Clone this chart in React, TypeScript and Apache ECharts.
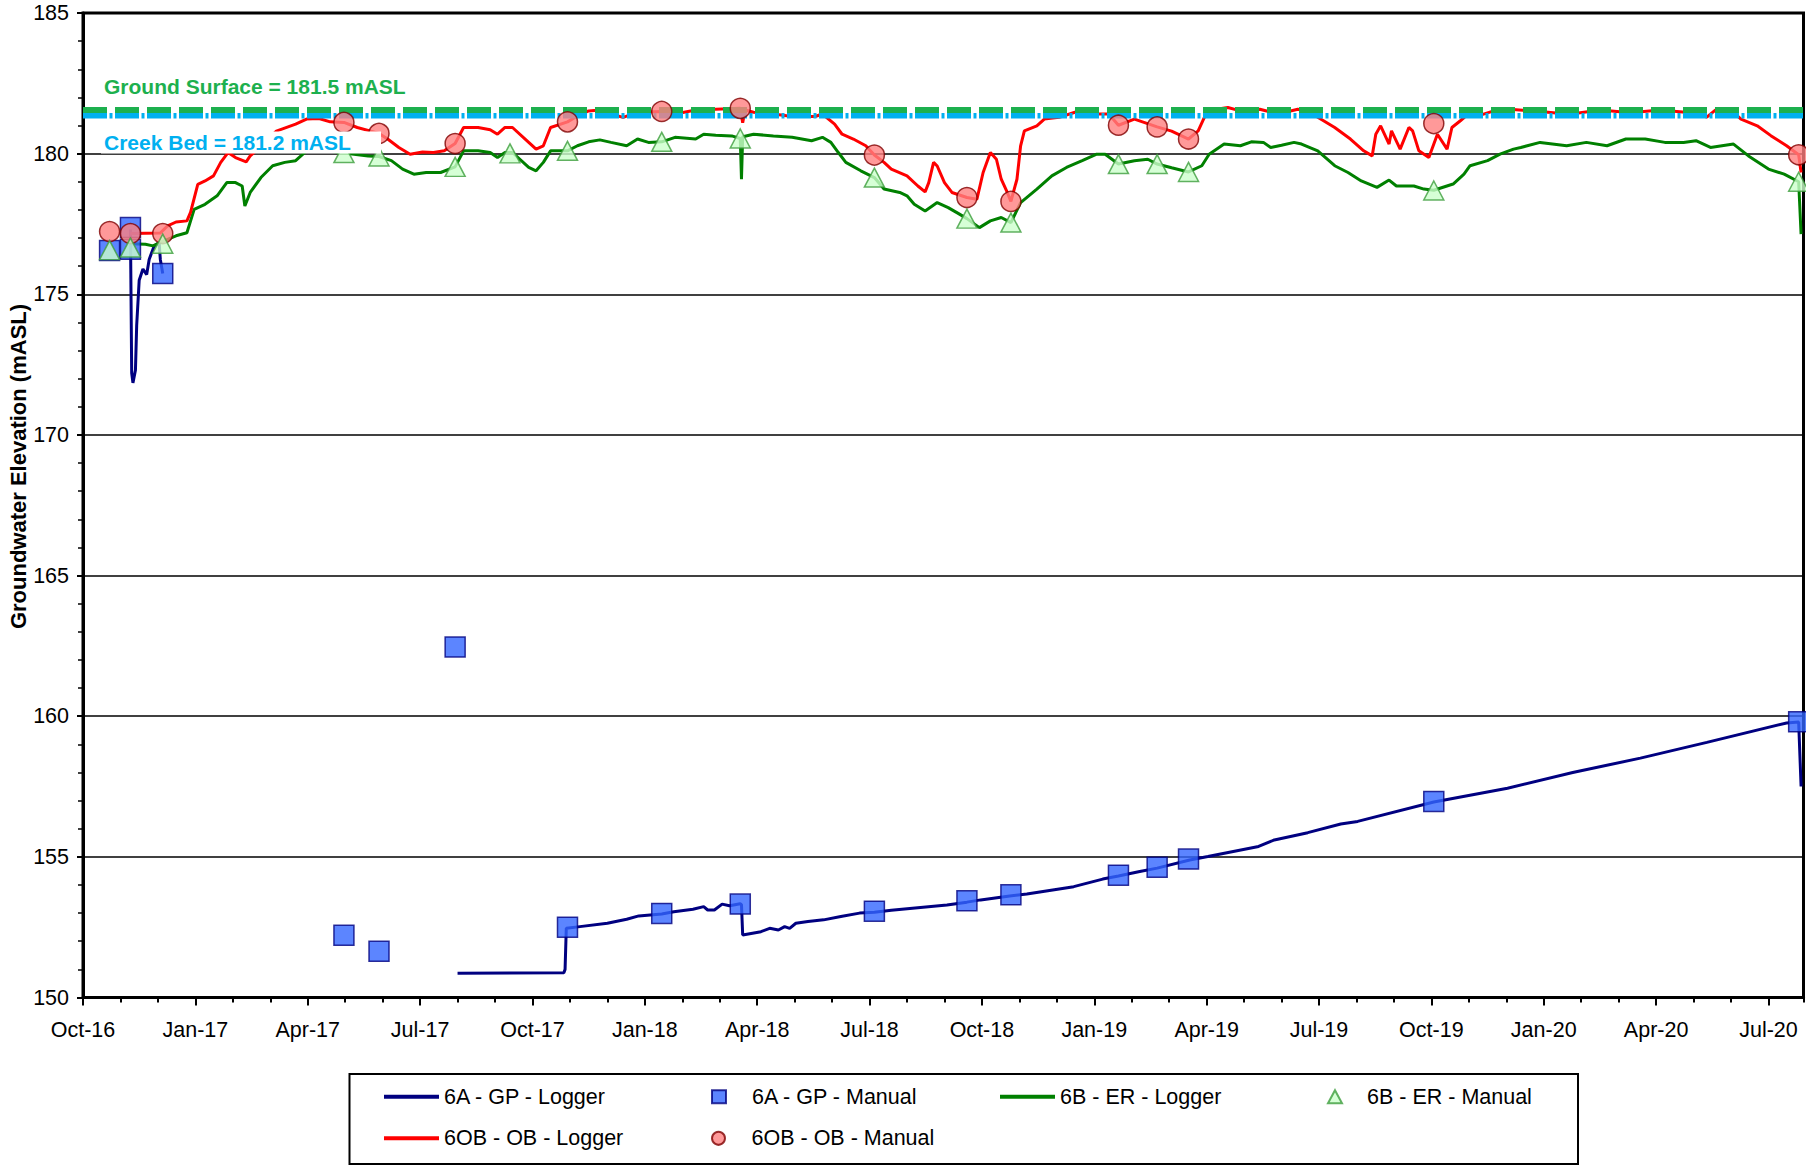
import React, { useEffect, useRef } from 'react';
import * as echarts from 'echarts';

const FONT = '"Liberation Sans", Arial, Helvetica, sans-serif';

const X_TICK_LABELS = ['Oct-16', 'Jan-17', 'Apr-17', 'Jul-17', 'Oct-17', 'Jan-18', 'Apr-18', 'Jul-18', 'Oct-18', 'Jan-19', 'Apr-19', 'Jul-19', 'Oct-19', 'Jan-20', 'Apr-20', 'Jul-20'];
const X_START = '2016-10-01';
const X_END = '2020-07-30';
const Y_MIN = 150;
const Y_MAX = 185;
const Y_STEP = 5;

const Y_TITLE = 'Groundwater Elevation (mASL)';
const GROUND_LABEL = 'Ground Surface = 181.5 mASL';
const CREEK_LABEL = 'Creek Bed = 181.2 mASL';
const GROUND_LINE_LEVEL = 181.55;
const CREEK_LINE_LEVEL = 181.35;

const GP_LOGGER: [string, number | string][] = [
  ['2016-11-09', 177.3], ['2016-11-10', 172.2], ['2016-11-11', 171.85], ['2016-11-13', 172.3], ['2016-11-14', 173.9],
  ['2016-11-16', 175.5], ['2016-11-19', 175.9], ['2016-11-22', 175.7], ['2016-11-24', 176.24], ['2016-11-28', 176.72],
  ['2016-12-02', 176.84], ['2016-12-03', 176.24], ['2016-12-05', 175.74],
  ['2017-03-01', '-'],
  ['2017-08-01', 150.86], ['2017-10-27', 150.88], ['2017-10-28', 151.0], ['2017-10-29', 152.46], ['2017-11-09', 152.52],
  ['2017-12-01', 152.64], ['2017-12-17', 152.78], ['2017-12-27', 152.9], ['2018-01-15', 152.97], ['2018-01-25', 153.05],
  ['2018-02-09', 153.14], ['2018-02-17', 153.23], ['2018-02-20', 153.11], ['2018-02-25', 153.11], ['2018-03-03', 153.32],
  ['2018-03-09', 153.26], ['2018-03-18', 153.33], ['2018-03-19', 153.3], ['2018-03-20', 152.22], ['2018-04-04', 152.34],
  ['2018-04-11', 152.46], ['2018-04-18', 152.4], ['2018-04-23', 152.52], ['2018-04-27', 152.46], ['2018-05-02', 152.64],
  ['2018-05-12', 152.7], ['2018-05-25', 152.76], ['2018-06-08', 152.88], ['2018-06-23', 153.0], ['2018-07-05', 153.03],
  ['2018-07-19', 153.1], ['2018-09-03', 153.29], ['2018-09-19', 153.39], ['2018-09-30', 153.47], ['2018-10-24', 153.61],
  ['2018-11-07', 153.68], ['2018-12-15', 153.94], ['2019-01-08', 154.21], ['2019-01-21', 154.32], ['2019-02-07', 154.48],
  ['2019-02-20', 154.6], ['2019-03-18', 154.89], ['2019-04-02', 155.01], ['2019-05-13', 155.37], ['2019-05-26', 155.6],
  ['2019-06-22', 155.86], ['2019-07-19', 156.17], ['2019-08-02', 156.26], ['2019-10-03', 156.95], ['2019-12-02', 157.44],
  ['2020-01-25', 158.0], ['2020-03-19', 158.51], ['2020-05-12', 159.07], ['2020-07-16', 159.76], ['2020-07-26', 159.79],
  ['2020-07-28', 157.5],
];

const GP_MANUAL: [string, number][] = [
  ['2016-10-23', 176.56], ['2016-11-09', 177.37], ['2016-11-09', 176.6], ['2016-12-05', 175.74], ['2017-04-30', 152.21],
  ['2017-05-29', 151.64], ['2017-07-30', 162.46], ['2017-10-30', 152.5], ['2018-01-15', 152.99], ['2018-03-18', 153.32],
  ['2018-07-05', 153.07], ['2018-09-19', 153.44], ['2018-10-25', 153.65], ['2019-01-21', 154.35], ['2019-02-20', 154.63],
  ['2019-03-17', 154.92], ['2019-10-03', 156.97], ['2020-07-26', 159.8],
];

const ER_LOGGER: [string, number][] = [
  ['2016-11-09', 176.8], ['2016-11-21', 176.78], ['2016-11-27', 176.72], ['2016-12-06', 176.9], ['2016-12-16', 177.08],
  ['2016-12-25', 177.19], ['2016-12-31', 178.02], ['2017-01-09', 178.2], ['2017-01-19', 178.5], ['2017-01-27', 178.97],
  ['2017-02-03', 178.97], ['2017-02-08', 178.85], ['2017-02-10', 178.14], ['2017-02-14', 178.62], ['2017-02-22', 179.15],
  ['2017-03-03', 179.57], ['2017-03-13', 179.69], ['2017-03-22', 179.75], ['2017-03-31', 180.1], ['2017-04-16', 180.1],
  ['2017-04-30', 180.02], ['2017-05-20', 179.92], ['2017-05-29', 179.9], ['2017-06-08', 179.75], ['2017-06-17', 179.45],
  ['2017-06-26', 179.27], ['2017-07-06', 179.33], ['2017-07-18', 179.33], ['2017-07-30', 179.53], ['2017-08-06', 180.1],
  ['2017-08-18', 180.1], ['2017-08-28', 180.04], ['2017-09-03', 179.86], ['2017-09-09', 180.04], ['2017-09-15', 180.04],
  ['2017-09-28', 179.51], ['2017-10-04', 179.39], ['2017-10-10', 179.69], ['2017-10-16', 180.1], ['2017-10-30', 180.1],
  ['2017-11-07', 180.28], ['2017-11-16', 180.42], ['2017-11-25', 180.49], ['2017-12-04', 180.4], ['2017-12-17', 180.28],
  ['2017-12-26', 180.52], ['2018-01-04', 180.4], ['2018-01-15', 180.42], ['2018-01-26', 180.58], ['2018-02-11', 180.52],
  ['2018-02-17', 180.69], ['2018-02-26', 180.65], ['2018-03-11', 180.63], ['2018-03-18', 180.54], ['2018-03-19', 179.09],
  ['2018-03-20', 180.6], ['2018-03-29', 180.69], ['2018-04-14', 180.63], ['2018-04-29', 180.58], ['2018-05-15', 180.46],
  ['2018-05-24', 180.58], ['2018-05-31', 180.4], ['2018-06-06', 180.04], ['2018-06-12', 179.69], ['2018-06-24', 179.39],
  ['2018-07-05', 179.15], ['2018-07-13', 178.74], ['2018-07-26', 178.62], ['2018-08-01', 178.5], ['2018-08-07', 178.2],
  ['2018-08-16', 177.96], ['2018-08-26', 178.26], ['2018-09-04', 178.08], ['2018-09-13', 177.85], ['2018-09-19', 177.69],
  ['2018-09-29', 177.37], ['2018-10-08', 177.61], ['2018-10-17', 177.73], ['2018-10-25', 177.55], ['2018-11-02', 178.26],
  ['2018-11-15', 178.74], ['2018-11-27', 179.21], ['2018-12-09', 179.51], ['2018-12-22', 179.75], ['2019-01-03', 179.98],
  ['2019-01-10', 179.98], ['2019-01-21', 179.63], ['2019-02-03', 179.75], ['2019-02-13', 179.8], ['2019-02-20', 179.63],
  ['2019-03-03', 179.5], ['2019-03-17', 179.35], ['2019-03-28', 179.57], ['2019-04-03', 179.98], ['2019-04-15', 180.34],
  ['2019-04-28', 180.28], ['2019-05-07', 180.42], ['2019-05-17', 180.4], ['2019-05-23', 180.22], ['2019-06-01', 180.3],
  ['2019-06-11', 180.4], ['2019-06-17', 180.34], ['2019-06-30', 180.1], ['2019-07-14', 179.57], ['2019-07-25', 179.33],
  ['2019-08-05', 179.03], ['2019-08-18', 178.8], ['2019-08-28', 179.06], ['2019-09-03', 178.85], ['2019-09-17', 178.85],
  ['2019-09-25', 178.74], ['2019-10-03', 178.7], ['2019-10-19', 178.92], ['2019-10-28', 179.27], ['2019-11-02', 179.57],
  ['2019-11-16', 179.75], ['2019-11-26', 179.98], ['2019-12-07', 180.16], ['2019-12-13', 180.22], ['2019-12-29', 180.4],
  ['2020-01-20', 180.28], ['2020-02-05', 180.4], ['2020-02-21', 180.28], ['2020-03-07', 180.52], ['2020-03-23', 180.52],
  ['2020-04-08', 180.4], ['2020-04-23', 180.4], ['2020-05-03', 180.46], ['2020-05-15', 180.22], ['2020-06-03', 180.34],
  ['2020-06-15', 179.92], ['2020-07-01', 179.45], ['2020-07-14', 179.27], ['2020-07-26', 179.0], ['2020-07-28', 177.14],
];

const ER_MANUAL: [string, number][] = [
  ['2016-10-23', 176.57], ['2016-11-09', 176.66], ['2016-12-05', 176.8], ['2017-04-30', 180.02], ['2017-05-29', 179.9],
  ['2017-07-30', 179.53], ['2017-09-13', 180.01], ['2017-10-30', 180.1], ['2018-01-15', 180.42], ['2018-03-18', 180.54],
  ['2018-07-05', 179.15], ['2018-09-19', 177.69], ['2018-10-25', 177.55], ['2019-01-21', 179.63], ['2019-02-20', 179.63],
  ['2019-03-17', 179.35], ['2019-10-03', 178.69], ['2020-07-26', 179.0],
];

const OB_LOGGER: [string, number][] = [
  ['2016-11-09', 177.16], ['2016-12-03', 177.18], ['2016-12-09', 177.43], ['2016-12-16', 177.57], ['2016-12-25', 177.61],
  ['2016-12-28', 177.91], ['2017-01-03', 178.91], ['2017-01-09', 179.03], ['2017-01-16', 179.21], ['2017-01-22', 179.69],
  ['2017-01-28', 180.04], ['2017-02-03', 179.86], ['2017-02-11', 179.71], ['2017-02-14', 179.92], ['2017-02-23', 180.3],
  ['2017-03-06', 180.8], ['2017-03-22', 181.05], ['2017-03-31', 181.23], ['2017-04-10', 181.25], ['2017-04-19', 181.13],
  ['2017-04-30', 181.11], ['2017-05-11', 180.93], ['2017-05-29', 180.72], ['2017-06-05', 180.52], ['2017-06-14', 180.22],
  ['2017-06-23', 179.98], ['2017-07-03', 180.06], ['2017-07-12', 180.04], ['2017-07-21', 180.1], ['2017-07-30', 180.36],
  ['2017-08-06', 180.93], ['2017-08-18', 180.93], ['2017-08-28', 180.85], ['2017-09-03', 180.69], ['2017-09-09', 180.93],
  ['2017-09-15', 180.93], ['2017-09-28', 180.4], ['2017-10-04', 180.16], ['2017-10-10', 180.28], ['2017-10-16', 180.93],
  ['2017-10-30', 181.13], ['2017-11-07', 181.34], ['2017-11-16', 181.52], ['2017-11-25', 181.55], ['2017-12-04', 181.41],
  ['2017-12-14', 181.29], ['2017-12-26', 181.47], ['2018-01-15', 181.5], ['2018-01-26', 181.41], ['2018-02-14', 181.58],
  ['2018-02-26', 181.58], ['2018-03-18', 181.61], ['2018-03-20', 181.1], ['2018-03-22', 181.55], ['2018-03-29', 181.47],
  ['2018-04-14', 181.41], ['2018-04-29', 181.32], ['2018-05-18', 181.32], ['2018-05-24', 181.41], ['2018-06-03', 181.05],
  ['2018-06-09', 180.69], ['2018-06-18', 180.52], ['2018-06-28', 180.28], ['2018-07-05', 179.95], ['2018-07-13', 179.69],
  ['2018-07-19', 179.45], ['2018-08-01', 179.21], ['2018-08-10', 178.85], ['2018-08-16', 178.64], ['2018-08-19', 178.97],
  ['2018-08-23', 179.69], ['2018-08-26', 179.56], ['2018-09-01', 178.97], ['2018-09-07', 178.62], ['2018-09-19', 178.44],
  ['2018-09-27', 178.38], ['2018-10-02', 179.33], ['2018-10-08', 180.04], ['2018-10-13', 179.8], ['2018-10-17', 179.09],
  ['2018-10-22', 178.62], ['2018-10-25', 178.3], ['2018-10-30', 179.09], ['2018-11-02', 180.28], ['2018-11-05', 180.81],
  ['2018-11-15', 180.99], ['2018-11-21', 181.23], ['2018-12-03', 181.29], ['2018-12-16', 181.47], ['2018-12-28', 181.41],
  ['2019-01-13', 181.41], ['2019-01-21', 181.01], ['2019-02-03', 181.23], ['2019-02-20', 180.95], ['2019-03-03', 180.8],
  ['2019-03-17', 180.52], ['2019-03-25', 180.81], ['2019-04-01', 181.47], ['2019-04-09', 181.58], ['2019-04-18', 181.64],
  ['2019-04-28', 181.52], ['2019-05-14', 181.58], ['2019-05-29', 181.41], ['2019-06-14', 181.58], ['2019-06-28', 181.35],
  ['2019-07-14', 180.93], ['2019-07-27', 180.52], ['2019-08-07', 180.1], ['2019-08-14', 179.92], ['2019-08-17', 180.69],
  ['2019-08-21', 180.99], ['2019-08-28', 180.34], ['2019-08-30', 180.81], ['2019-09-06', 180.16], ['2019-09-13', 180.93],
  ['2019-09-16', 180.81], ['2019-09-21', 180.1], ['2019-09-29', 179.86], ['2019-10-06', 180.69], ['2019-10-14', 180.16],
  ['2019-10-18', 180.93], ['2019-10-25', 181.17], ['2019-10-30', 181.35], ['2019-11-09', 181.35], ['2019-11-21', 181.52],
  ['2019-12-04', 181.58], ['2019-12-29', 181.5], ['2020-01-22', 181.4], ['2020-02-16', 181.55], ['2020-03-11', 181.45],
  ['2020-04-04', 181.55], ['2020-04-29', 181.45], ['2020-05-12', 181.3], ['2020-05-19', 181.55], ['2020-06-03', 181.47],
  ['2020-06-09', 181.23], ['2020-06-22', 180.99], ['2020-07-03', 180.64], ['2020-07-16', 180.28], ['2020-07-26', 179.96],
  ['2020-07-28', 179.33],
];

const OB_MANUAL: [string, number][] = [
  ['2016-10-23', 177.23], ['2016-11-09', 177.16], ['2016-12-05', 177.16], ['2017-04-30', 181.11], ['2017-05-29', 180.72],
  ['2017-07-30', 180.36], ['2017-10-30', 181.13], ['2018-01-15', 181.5], ['2018-03-18', 181.61], ['2018-07-05', 179.95],
  ['2018-09-19', 178.44], ['2018-10-25', 178.3], ['2019-01-21', 181.01], ['2019-02-20', 180.95], ['2019-03-17', 180.52],
  ['2019-10-03', 181.07], ['2020-07-26', 179.96],
];

// date -> months since X_START (fractional, by day of month)
const [SY, SM] = X_START.split('-').map(Number);
function toMonth(s: string): number {
  const [y, m, d] = s.split('-').map(Number);
  const dim = new Date(y, m, 0).getDate();
  return (y - SY) * 12 + (m - SM) + (d - 1) / dim;
}
const conv = (arr: [string, number | string][]) => arr.map(([d, v]) => [toMonth(d), v]);
const X_MAX = toMonth(X_END);

const GREEN_REF = '#1DB04E';
const BLUE_REF = '#00B0F0';

function buildOption() {
  const legText = { fontFamily: FONT, fontSize: 21.5, color: '#000', lineHeight: 22 };
  const mkLineLegend = (name: string, left: number, top: number) => ({
    data: [{ name, icon: 'rect', itemStyle: { borderWidth: 0 } }],
    left, top, padding: 0, itemGap: 0, itemWidth: 55, itemHeight: 4,
    selectedMode: false, textStyle: legText,
  });
  const mkMarkerLegend = (name: string, center: number, textLeft: number, top: number) => ({
    data: [{ name }],
    left: center - 7, top, padding: 0, itemGap: 0, itemWidth: 14, itemHeight: 13,
    selectedMode: false,
    textStyle: { ...legText, padding: [0, 0, 0, textLeft - (center - 7 + 14 + 5)] },
  });
  const row1 = 1096.7 - 11;
  const row2 = 1138.3 - 11;

  return {
    animation: false,
    backgroundColor: '#ffffff',
    textStyle: { fontFamily: FONT },
    grid: {
      left: 83, right: 2.5, top: 13, bottom: 169.5,
      show: true, borderColor: '#000', borderWidth: 3, backgroundColor: 'rgba(0,0,0,0)',
    },
    xAxis: [
      {
        type: 'value', min: 0, max: X_MAX, interval: 3, position: 'bottom',
        axisLine: { show: true, onZero: false, lineStyle: { color: '#000', width: 3 } },
        axisTick: { show: true, length: 8, lineStyle: { color: '#000', width: 2 } },
        axisLabel: {
          show: true, margin: 21, color: '#000', fontSize: 21.5, fontFamily: FONT, showMaxLabel: false,
          formatter: (v: number) => {
            const i = Math.round(v / 3);
            return Math.abs(v - i * 3) < 1e-6 && X_TICK_LABELS[i] ? X_TICK_LABELS[i] : '';
          },
        },
        splitLine: { show: false },
      },
      {
        type: 'value', min: 0, max: X_MAX, interval: 1, position: 'bottom',
        axisLine: { show: false, onZero: false },
        axisTick: { show: true, length: 5, lineStyle: { color: '#000', width: 2 } },
        axisLabel: { show: false },
        splitLine: { show: false },
      },
    ],
    yAxis: {
      type: 'value', min: Y_MIN, max: Y_MAX, interval: Y_STEP,
      axisLine: { show: true, onZero: false, lineStyle: { color: '#000', width: 3 } },
      axisTick: { show: true, length: 6, lineStyle: { color: '#000', width: 2 } },
      minorTick: { show: true, splitNumber: 5, length: 5, lineStyle: { color: '#000', width: 1.5 } },
      axisLabel: { margin: 14, color: '#000', fontSize: 21.5, fontFamily: FONT },
      splitLine: { show: true, lineStyle: { color: '#000', width: 1.5 } },
    },
    legend: [
      mkLineLegend('6A - GP - Logger', 384, row1),
      mkMarkerLegend('6A - GP - Manual', 718, 751, row1),
      mkLineLegend('6B - ER - Logger', 1000, row1),
      mkMarkerLegend('6B - ER - Manual', 1334, 1366, row1),
      mkLineLegend('6OB - OB - Logger', 384, row2),
      mkMarkerLegend('6OB - OB - Manual', 718, 751, row2),
    ],
    graphic: [
      {
        type: 'rect', z: 100,
        shape: { x: 349.5, y: 1074, width: 1228.5, height: 90 },
        style: { fill: 'none', stroke: '#000', lineWidth: 2 },
      },
      {
        type: 'text', z: 100, x: 18, y: 466.5, rotation: Math.PI / 2,
        style: {
          text: Y_TITLE, font: `bold 22px ${FONT}`, fill: '#000',
          align: 'center', verticalAlign: 'middle', textAlign: 'center', textVerticalAlign: 'middle',
        },
      },
      {
        type: 'text', z: 100, x: 104, y: 86,
        style: {
          text: GROUND_LABEL, font: `bold 21px ${FONT}`, fill: GREEN_REF,
          align: 'left', verticalAlign: 'middle', textAlign: 'left', textVerticalAlign: 'middle',
        },
      },
      {
        type: 'rect', z: 100,
        shape: { x: 101, y: 131.5, width: 280, height: 22 },
        style: { fill: '#ffffff' },
      },
      {
        type: 'text', z: 101, x: 104, y: 142.5,
        style: {
          text: CREEK_LABEL, font: `bold 21px ${FONT}`, fill: BLUE_REF,
          align: 'left', verticalAlign: 'middle', textAlign: 'left', textVerticalAlign: 'middle',
        },
      },
    ],
    series: [
      {
        name: '6A - GP - Logger', type: 'line', z: 2, data: conv(GP_LOGGER), symbol: 'none', showSymbol: false,
        connectNulls: false, color: '#000080', lineStyle: { color: '#000080', width: 3 },
      },
      {
        name: '6A - GP - Manual', type: 'scatter', z: 4, data: conv(GP_MANUAL), symbol: 'rect', symbolSize: 20,
        itemStyle: { color: '#3366FF', borderColor: '#000080', borderWidth: 1.5 },
      },
      {
        name: '6B - ER - Logger', type: 'line', z: 2, data: conv(ER_LOGGER), symbol: 'none', showSymbol: false,
        color: '#008000', lineStyle: { color: '#008000', width: 3 },
      },
      {
        name: '6B - ER - Manual', type: 'scatter', z: 6, data: conv(ER_MANUAL), symbol: 'triangle', symbolSize: [20, 19],
        itemStyle: { color: '#CCFFCC', borderColor: '#3C9E3C', borderWidth: 1.5 },
      },
      {
        name: '6OB - OB - Logger', type: 'line', z: 2, data: conv(OB_LOGGER), symbol: 'none', showSymbol: false,
        color: '#FF0000', lineStyle: { color: '#FF0000', width: 3 },
      },
      {
        name: '6OB - OB - Manual', type: 'scatter', z: 5, data: conv(OB_MANUAL), symbol: 'circle', symbolSize: 20,
        itemStyle: { color: '#FF8080', borderColor: '#800000', borderWidth: 1.5 },
      },
      {
        name: 'Ground Surface', type: 'line', z: 3, silent: true, symbol: 'none', showSymbol: false,
        data: [[0, GROUND_LINE_LEVEL], [X_MAX, GROUND_LINE_LEVEL]],
        color: GREEN_REF, lineStyle: { color: GREEN_REF, width: 6, type: [24, 8] },
      },
      {
        name: 'Creek Bed', type: 'line', z: 3, silent: true, symbol: 'none', showSymbol: false,
        data: [[0, CREEK_LINE_LEVEL], [X_MAX, CREEK_LINE_LEVEL]],
        color: BLUE_REF, lineStyle: { color: BLUE_REF, width: 5.5, type: [24, 2.5, 3, 2.5] },
      },
    ],
  };
}

export default function App() {
  const ref = useRef<HTMLDivElement>(null);
  useEffect(() => {
    if (!ref.current) return;
    const chart = echarts.init(ref.current, null, { renderer: 'svg' });
    chart.setOption(buildOption() as any);
    return () => chart.dispose();
  }, []);
  return (
    <div
      ref={ref}
      style={{ position: 'fixed', left: 0, top: 0, width: 1806, height: 1167, background: '#fff' }}
    />
  );
}
